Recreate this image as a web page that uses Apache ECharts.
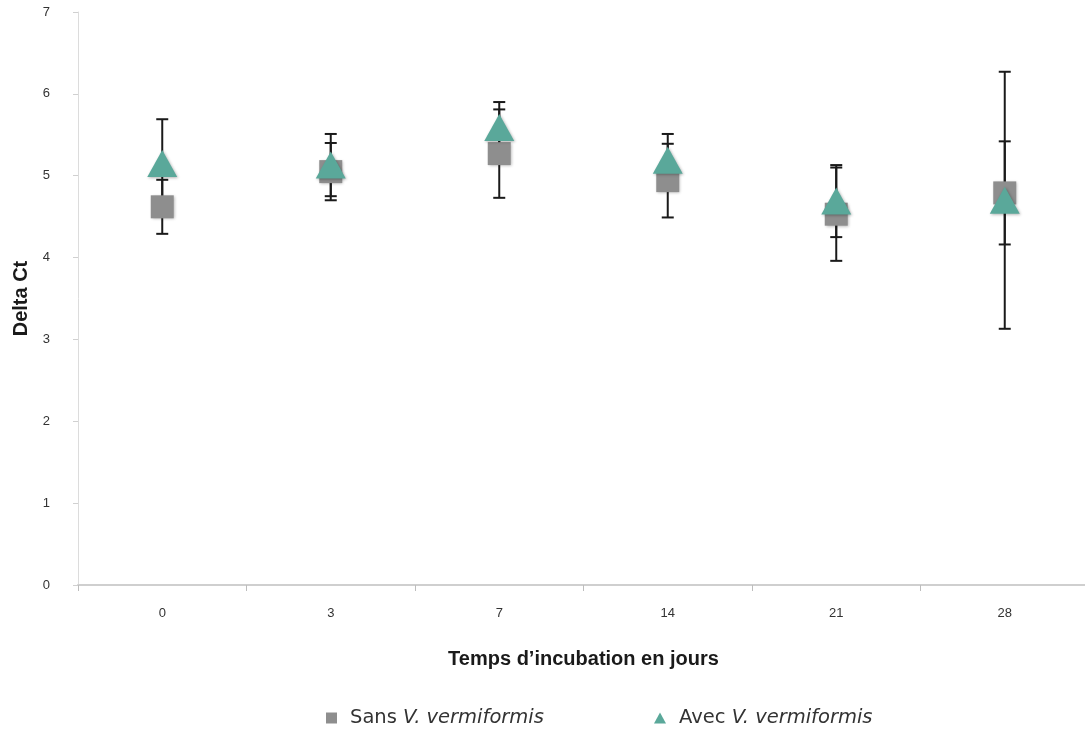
<!DOCTYPE html>
<html>
<head>
<meta charset="utf-8">
<script src="https://cdn.jsdelivr.net/npm/echarts@6/dist/echarts.min.js"></script>
<style>html,body{margin:0;padding:0;background:#fff}#c{width:1085px;height:730px}</style>
</head>
<body>
<div id="c"></div>
<script>
const categories = ['0', '3', '7', '14', '21', '28'];
const sansValues = [4.62, 5.05, 5.27, 4.94, 4.53, 4.79];
const sansErrors = [0.33, 0.35, 0.54, 0.45, 0.57, 0.63];
const avecValues = [5.15, 5.13, 5.59, 5.19, 4.69, 4.70];
const avecErrors = [0.54, 0.38, 0.31, 0.32, 0.44, 1.57];
const yTicks = [0, 1, 2, 3, 4, 5, 6, 7];

const chart = echarts.init(document.getElementById('c'));

function errData(vals, errs) {
  return vals.map((v, i) => [i, v - errs[i], v + errs[i]]);
}
function renderErr(params, api) {
  const x = api.value(0);
  const lo = api.coord([x, api.value(1)]);
  const hi = api.coord([x, api.value(2)]);
  const hw = 6;
  const st = { stroke: '#1a1a1a', lineWidth: 2 };
  return {
    type: 'group',
    children: [
      { type: 'line', shape: { x1: lo[0], y1: lo[1], x2: hi[0], y2: hi[1] }, style: st },
      { type: 'line', shape: { x1: lo[0] - hw, y1: lo[1], x2: lo[0] + hw, y2: lo[1] }, style: st },
      { type: 'line', shape: { x1: hi[0] - hw, y1: hi[1], x2: hi[0] + hw, y2: hi[1] }, style: st }
    ]
  };
}

const sansName = 'Sans V. vermiformis';
const avecName = 'Avec V. vermiformis';
const sansColor = '#8e8e8e';
const avecColor = '#5aa89a';

function legendFmt(name) {
  const parts = name.split(' ');
  return '{n|' + parts[0] + ' }{i|' + parts.slice(1).join(' ') + '}';
}
const legendText = {
  fontSize: 19.5, color: '#333',
  rich: {
    n: { fontSize: 19.5, color: '#333', fontFamily: 'DejaVu Sans', padding: [0, 0, 0, 8] },
    i: { fontSize: 19.5, color: '#333', fontStyle: 'italic', fontFamily: 'DejaVu Sans' }
  }
};

chart.setOption({
  animation: false,
  textStyle: { fontFamily: 'Liberation Sans' },
  grid: { left: 78, right: -4, top: 12, bottom: 145, outerBoundsMode: 'none' },
  legend: [
    {
      bottom: -3, left: 321, itemWidth: 11, itemHeight: 11,
      data: [{ name: sansName, icon: 'rect', itemStyle: { color: sansColor } }],
      formatter: legendFmt, textStyle: legendText
    },
    {
      bottom: -3, left: 649, itemWidth: 12, itemHeight: 11,
      data: [{ name: avecName, icon: 'triangle', itemStyle: { color: avecColor } }],
      formatter: legendFmt, textStyle: legendText
    }
  ],
  xAxis: {
    type: 'category',
    data: categories,
    boundaryGap: true,
    name: "Temps d\u2019incubation en jours",
    nameLocation: 'middle',
    nameGap: 64,
    nameTextStyle: { fontSize: 20, fontWeight: 'bold', color: '#1a1a1a', fontFamily: 'Liberation Sans' },
    axisLine: { lineStyle: { color: '#cfcfcf', width: 2 } },
    axisTick: { show: true, length: 6, lineStyle: { color: '#bdbdbd' }, alignWithLabel: false },
    axisLabel: { fontSize: 13, color: '#333', margin: 22 },
    splitLine: { show: false }
  },
  yAxis: {
    type: 'value',
    min: 0, max: 7, interval: 1,
    name: 'Delta Ct',
    nameLocation: 'middle',
    nameGap: 47,
    nameRotate: 90,
    nameTextStyle: { fontSize: 20, fontWeight: 'bold', color: '#1a1a1a', fontFamily: 'Liberation Sans' },
    axisLine: { show: true, lineStyle: { color: '#dcdcdc', width: 1 } },
    axisTick: { show: true, length: 5, lineStyle: { color: '#d0d0d0' } },
    axisLabel: {
      fontSize: 13, color: '#333', margin: 28,
      formatter: v => yTicks.includes(v) ? String(v) : ''
    },
    splitLine: { show: false }
  },
  series: [
    { type: 'custom', name: 'errSans', renderItem: renderErr, data: errData(sansValues, sansErrors), encode: { x: 0, y: [1, 2] }, z: 1, silent: true },
    { type: 'custom', name: 'errAvec', renderItem: renderErr, data: errData(avecValues, avecErrors), encode: { x: 0, y: [1, 2] }, z: 1, silent: true },
    {
      type: 'scatter', name: sansName, data: sansValues, symbol: 'rect', symbolSize: 23, z: 2,
      itemStyle: { color: sansColor, opacity: 1, shadowBlur: 3, shadowColor: 'rgba(0,0,0,0.3)', shadowOffsetX: 1, shadowOffsetY: 1 }
    },
    {
      type: 'scatter', name: avecName, data: avecValues, symbol: 'triangle', symbolSize: [30, 27], z: 3,
      itemStyle: { color: avecColor, opacity: 1, shadowBlur: 3, shadowColor: 'rgba(0,0,0,0.3)', shadowOffsetX: 1, shadowOffsetY: 1 }
    }
  ]
});
</script>
</body>
</html>
